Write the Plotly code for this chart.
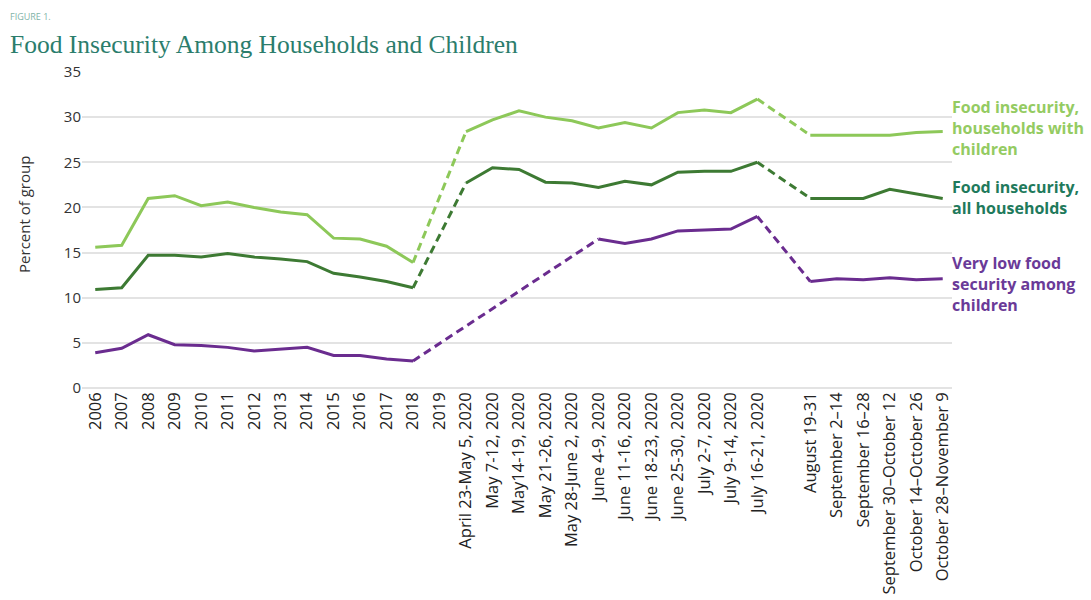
import plotly.graph_objects as go

categories = ["2006", "2007", "2008", "2009", "2010", "2011", "2012", "2013", "2014",
              "2015", "2016", "2017", "2018", "2019",
              "April 23-May 5, 2020", "May 7-12, 2020", "May14-19, 2020", "May 21-26, 2020",
              "May 28-June 2, 2020", "June 4-9, 2020", "June 11-16, 2020", "June 18-23, 2020",
              "June 25-30, 2020", "July 2-7, 2020", "July 9-14, 2020", "July 16-21, 2020",
              "",
              "August 19-31", "September 2\u201314", "September 16\u201328",
              "September 30\u2013October 12", "October 14\u2013October 26", "October 28\u2013November 9"]

hh_children = [15.6, 15.8, 21.0, 21.3, 20.2, 20.6, 20.0, 19.5, 19.2, 16.6, 16.5, 15.7, 13.9, None,
               28.4, 29.7, 30.7, 30.0, 29.6, 28.8, 29.4, 28.8, 30.5, 30.8, 30.5, 32.0,
               None,
               28.0, 28.0, 28.0, 28.0, 28.3, 28.4]

all_hh = [10.9, 11.1, 14.7, 14.7, 14.5, 14.9, 14.5, 14.3, 14.0, 12.7, 12.3, 11.8, 11.1, None,
          22.7, 24.4, 24.2, 22.8, 22.7, 22.2, 22.9, 22.5, 23.9, 24.0, 24.0, 25.0,
          None,
          21.0, 21.0, 21.0, 22.0, 21.5, 21.0]

very_low_children = [3.9, 4.4, 5.9, 4.8, 4.7, 4.5, 4.1, 4.3, 4.5, 3.6, 3.6, 3.2, 3.0, None,
                     None, None, None, None, None, 16.5, 16.0, 16.5, 17.4, 17.5, 17.6, 19.0,
                     None,
                     11.8, 12.1, 12.0, 12.2, 12.0, 12.1]

series = [
    ("Food insecurity,<br>households with<br>children", hh_children, "#8dc859", "#94cb62", 0.823),
    ("Food insecurity,<br>all households", all_hh, "#3d7a33", "#1f7a5c", 0.604),
    ("Very low food<br>security among<br>children", very_low_children, "#6a2c8f", "#6a3a98", 0.328),
]

x_idx = list(range(len(categories)))

fig = go.Figure()
for name, vals, color, tcolor, ly in series:
    fig.add_trace(go.Scatter(x=x_idx, y=vals, mode="lines", connectgaps=False,
                             line=dict(color=color, width=3), showlegend=False, hoverinfo="skip"))
    valid = [i for i, v in enumerate(vals) if v is not None]
    for a, b in zip(valid[:-1], valid[1:]):
        if b > a + 1:
            fig.add_trace(go.Scatter(x=[x_idx[a], x_idx[b]], y=[vals[a], vals[b]], mode="lines",
                                     line=dict(color=color, width=3, dash="8px,5px"),
                                     showlegend=False, hoverinfo="skip"))
    fig.add_annotation(text="<b>" + name + "</b>", xref="paper", yref="paper", x=0.998, y=ly,
                       xanchor="left", yanchor="middle", align="left", showarrow=False,
                       font=dict(family="Open Sans", size=16, color=tcolor))

fig.add_annotation(text="FIGURE 1.", xref="paper", yref="paper", x=-0.0845, y=1.177,
                   xanchor="left", yanchor="middle", showarrow=False,
                   font=dict(family="Open Sans", size=9, color="#7fb3a8"))
fig.add_annotation(text="Food Insecurity Among Households and Children", xref="paper", yref="paper",
                   x=-0.0855, y=1.087, xanchor="left", yanchor="middle", showarrow=False,
                   font=dict(family="Liberation Serif", size=25.5, color="#2b7d6c"))
fig.add_annotation(text="Percent of group", xref="paper", yref="paper", x=-0.067, y=0.55,
                   xanchor="center", yanchor="middle", textangle=-90, showarrow=False,
                   font=dict(family="Open Sans", size=15, color="#333333"))

fig.update_layout(
    width=1091, height=600,
    margin=dict(l=82, r=139, t=72, b=212),
    plot_bgcolor="white", paper_bgcolor="white",
    font=dict(family="Open Sans", color="#333333"),
)
fig.update_xaxes(range=[-0.5, 32.35], tickmode="array", tickvals=x_idx, ticktext=categories,
                 tickangle=-90, tickfont=dict(size=16.5, color="#222222"), showgrid=False,
                 zeroline=False, showline=False, ticks="", automargin=False)
fig.update_yaxes(range=[0, 35], tickvals=[0, 5, 10, 15, 20, 25, 30, 35], showgrid=True,
                 gridcolor="#e3e3e3", gridwidth=1.5, zeroline=True, zerolinecolor="#e3e3e3",
                 zerolinewidth=1.5, showline=False, ticks="", automargin=False,
                 tickfont=dict(size=15, color="#333333"))

fig.write_html("out.html")
